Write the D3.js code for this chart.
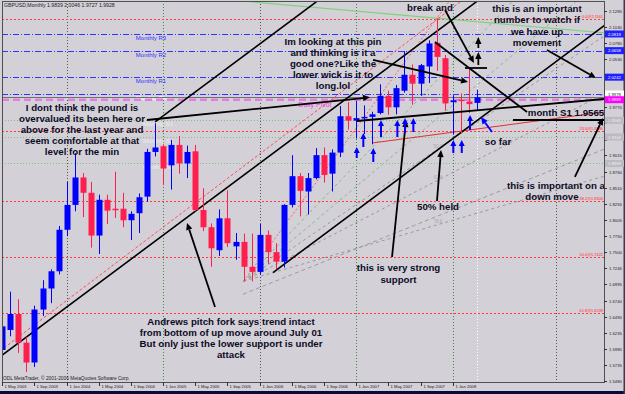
<!DOCTYPE html>
<html><head><meta charset="utf-8">
<script src="https://cdn.jsdelivr.net/npm/d3@7/dist/d3.min.js"></script>
<style>html,body{margin:0;padding:0;background:#d4d0d8;}svg{display:block;font-family:"Liberation Sans",Arial,sans-serif;}</style>
</head><body><svg id="c" width="625" height="394"></svg>
<script>
// ---------------- DATA ----------------
const months = ["2003-05","2003-06","2003-07","2003-08","2003-09","2003-10","2003-11","2003-12",
"2004-01","2004-02","2004-03","2004-04","2004-05","2004-06","2004-07","2004-08","2004-09","2004-10","2004-11","2004-12",
"2005-01","2005-02","2005-03","2005-04","2005-05","2005-06","2005-07","2005-08","2005-09","2005-10","2005-11","2005-12",
"2006-01","2006-02","2006-03","2006-04","2006-05","2006-06","2006-07","2006-08","2006-09","2006-10","2006-11","2006-12",
"2007-01","2007-02","2007-03","2007-04","2007-05","2007-06","2007-07","2007-08","2007-09","2007-10","2007-11","2007-12",
"2008-01","2008-02","2008-03","2008-04"];
const open  = [1.5966,1.6280,1.6530,1.6080,1.5770,1.6600,1.6930,1.7200, 1.7850,1.8240,1.8670,1.8430,1.7760,1.8320,1.8180,1.8180,1.8000,1.8110,1.8370,1.9070,
 1.9160,1.8860,1.9180,1.8890,1.9080,1.8160,1.7890,1.7530,1.8030,1.7590,1.7660,1.7270, 1.7190,1.7770,1.7500,1.7350,1.8240,1.8690,1.8450,1.8660,1.9020,1.8730,1.9060,1.9630,
 1.9560,1.9600,1.9620,1.9680,1.9950,1.9770,2.0030,2.0280,2.0140,2.0410,2.0780,2.0540, 1.9850,1.9890,1.9860,1.9839];
const high  = [1.6550,1.6880,1.6760,1.6170,1.6660,1.7060,1.7230,1.7910, 1.8600,1.9050,1.8740,1.8600,1.8400,1.8400,1.8760,1.8430,1.8140,1.8420,1.9120,1.9520,
 1.9190,1.9260,1.9320,1.9170,1.9180,1.8500,1.7950,1.8170,1.8470,1.7800,1.7790,1.7790, 1.7940,1.7840,1.7640,1.8250,1.9020,1.8740,1.8740,1.9130,1.9140,1.9110,1.9790,1.9850,
 1.9870,1.9800,1.9700,2.0130,2.0030,2.0120,2.0650,2.0440,2.0450,2.0820,2.1161,2.0590, 1.9960,1.9990,2.0397,2.0046];
const low   = [1.5905,1.6180,1.5920,1.5620,1.5700,1.6500,1.6700,1.7150, 1.7750,1.8140,1.8050,1.7570,1.7470,1.7940,1.8035,1.7890,1.7690,1.7800,1.8290,1.9000,
 1.8550,1.8480,1.8730,1.8660,1.8140,1.7830,1.7270,1.7440,1.7580,1.7380,1.7040,1.7040, 1.7150,1.7310,1.7230,1.7260,1.8200,1.8060,1.8090,1.8640,1.8590,1.8450,1.8990,1.9420,
 1.9280,1.9350,1.9190,1.9660,1.9650,1.9660,2.0000,1.9810,1.9950,2.0150,2.0340,1.9720, 1.9340,1.9360,1.9680,1.9727];
const close = [1.6336,1.6530,1.6080,1.5770,1.6600,1.6930,1.7200,1.7850, 1.8240,1.8670,1.8430,1.7760,1.8320,1.8150,1.8160,1.8000,1.8100,1.8360,1.9070,1.9140,
 1.8810,1.9180,1.8890,1.9070,1.8160,1.7890,1.7560,1.8030,1.7640,1.7660,1.7270,1.7190, 1.7770,1.7500,1.7350,1.8240,1.8690,1.8460,1.8660,1.9020,1.8710,1.9060,1.9630,1.9560,
 1.9600,1.9620,1.9660,1.9950,1.9770,2.0070,2.0280,2.0140,2.0430,2.0770,2.0560,1.9830, 1.9880,1.9870,1.9820,1.9928];

const yTickLabels = ["2.1285","2.1030","2.0780","2.0530","2.0280","2.0025","1.9770","1.9520","1.9265","1.9015","1.8760","1.8510",
 "1.8255","1.8005","1.7750","1.7500","1.7246","1.6995","1.6740","1.6490","1.6235","1.5985","1.5735","1.5480"];
const xTickLabels = ["1 May 2003","1 Sep 2003","1 Jan 2004","1 May 2004","1 Sep 2004","1 Jan 2005","1 May 2005","1 Sep 2005",
 "1 Jan 2006","1 May 2006","1 Sep 2006","1 Jan 2007","1 May 2007","1 Sep 2007","1 Jan 2008"];
const xTickMonths = ["2003-05","2003-09","2004-01","2004-05","2004-09","2005-01","2005-05","2005-09","2006-01","2006-05","2006-09","2007-01","2007-05","2007-09","2008-01"];

const pivotNames  = ["Monthly R3","Monthly R2","Monthly R1","Monthly Pivot","Monthly S1","Monthly S2","Monthly S3"];
const pivotValues = [2.0919,2.0658,2.0242,1.9978,1.9565,1.9304,1.8889];
const dailyPivot = 1.9889;
const bidPrice = 1.9928;
const fibNames  = ["0.0","23.6","38.2","50.0","61.8"];
const fibValues = [2.1161,1.9396,1.8304,1.7422,1.6539];
// Andrews pitchfork anchors [month index from May 2003, price]
const forkAnchors = [[-22,1.382],[19,1.954],[33.66,1.718]];
// Fibonacci fan: from Nov 2005 low to Nov 2007 high
const fanFrom = [30,1.7044], fanTo = [54,2.1161];
const fanLevels = [0.236,0.382,0.5,0.618,0.786];
const fanLabels = ["23.6","38.2","50.0","61.8","78.6"];
// annotation lines / arrows in [month index, price]
const arrowsBlack = [
 [[55.05,2.1295],[58.65,2.0464]],
 [[59.19,2.0433],[59.19,2.0637]],
 [[59.19,2.0699],[59.19,2.0872]],
 [[67.73,2.0668],[73.82,2.0229]],
 [[46.10,2.0512],[57.91,2.0166]],
 [[54.05,1.8301],[54.55,1.9101]],
 [[48.46,1.7424],[50.20,1.9571]],
 [[26.45,1.6640],[22.97,1.7957]],
 [[71.20,1.8678],[74.70,1.9602]],
 [[17.99,1.9571],[45.72,1.9926]]
];
const arrowsBlue = [[[60.89,1.9383],[59.52,1.9618]]];
const upArrowsBlue = [[44.07,1.8975,1.9148],[44.89,1.9148,1.9367],[46.13,1.8913,1.9132],[47.09,1.9304,1.9571],
 [49.12,1.9304,1.9571],[50.07,1.9367,1.9602],[51.11,1.9383,1.9602],[56.08,1.9054,1.9258],[57.13,1.9054,1.9258],[58.16,1.9414,1.9649]];
const linesBlack = [
 [[44.10,1.9555],[74.82,1.9900]],
 [[63.50,1.9571],[74.82,1.9571]],
 [[53.80,2.0793],[65.25,1.9696]],
 [[57.54,2.0386],[60.27,2.0386]]
];
const greenLine = [[28.31,2.1452],[74.82,2.0935]];
const redLine = [[45.97,1.9210],[74.82,1.9696]];
const redDashLine = [[-0.29,1.5950],[56.91,2.1420]];
const grayDashLine = [[29.93,1.6840],[74.82,1.9113]];

// ---------------- LAYOUT ----------------
const W=625,H=394, L=2, R=604, T=1, B=382;
const svg=d3.select("#c");
const xs=d3.scaleLinear().domain([0,59]).range([2.3,476.8]);
const ys=d3.scaleLinear().domain([1.548,2.103]).range([381,26.9]);
const BLUE="#0000ff", RED="#ff1f4f", INK="#0c0c24";

svg.append("rect").attr("width",W).attr("height",H).attr("fill","#d4d0d8");
svg.append("rect").attr("x",0).attr("y",391).attr("width",W).attr("height",3).attr("fill","#0a0a3a");
svg.append("rect").attr("x",623.5).attr("y",0).attr("width",1.5).attr("height",H).attr("fill","#3a3a4a");
svg.append("defs").append("clipPath").attr("id","pc").append("rect").attr("x",L).attr("y",T).attr("width",R-L).attr("height",B-T);
const g=svg.append("g").attr("clip-path","url(#pc)");
const P=p=>[xs(p[0]),ys(p[1])];
const seg=(l,stroke,w,dash)=>{const a=P(l[0]),b=P(l[1]);const e=g.append("line").attr("x1",a[0]).attr("y1",a[1]).attr("x2",b[0]).attr("y2",b[1]).attr("stroke",stroke).attr("stroke-width",w);if(dash)e.attr("stroke-dasharray",dash);};

// vertical grid / separators
const gridCols=[{m:"2004-01",c:"#555"},{m:"2005-01",c:"#3a8a3a"},{m:"2006-01",c:"#555"},{m:"2007-01",c:"#3a8a3a"},{m:"2008-01",c:"#3a8a3a"}];
gridCols.forEach(d=>{const x=Math.round(xs(months.indexOf(d.m)))+0.5;
 g.append("line").attr("x1",x).attr("x2",x).attr("y1",T).attr("y2",B).attr("stroke",d.c).attr("stroke-dasharray","1,2");});
g.append("line").attr("x1",556.5).attr("x2",556.5).attr("y1",T).attr("y2",B).attr("stroke","#555").attr("stroke-dasharray","1,2");
{const x=Math.round(xs(59))+0.5; g.append("line").attr("x1",x).attr("x2",x).attr("y1",T).attr("y2",B).attr("stroke","#ffffff").attr("stroke-dasharray","1,2");}

// fib horizontal levels
fibValues.forEach((v,k)=>{const y=Math.round(ys(v))+0.5;
 g.append("line").attr("x1",L).attr("x2",R).attr("y1",y).attr("y2",y).attr("stroke","#ff3b3b").attr("stroke-dasharray","2,2");
 g.append("text").attr("x",603).attr("y",y-1.5).attr("text-anchor","end").attr("font-size",3.9).attr("fill","#ff2a2a").text(fibNames[k]+"@"+v.toFixed(4));});

// monthly pivots
pivotValues.forEach((v,k)=>{const y=Math.round(ys(v))+0.5;
 if(k<4){g.append("line").attr("x1",L).attr("x2",R).attr("y1",y).attr("y2",y).attr("stroke","#3333ff").attr("stroke-dasharray","6,2,1,2");}
 else {g.append("line").attr("x1",L).attr("x2",R).attr("y1",y).attr("y2",y).attr("stroke","#7cc47c").attr("stroke-dasharray","1,2");}
 g.append("text").attr("x",k<3?151:(k==3?154:158)).attr("y",y+5.5).attr("text-anchor","middle").attr("font-size",6)
  .attr("fill",k<3?"#3333ff":(k==3?"#ffffff":"#ececec")).text(pivotNames[k]);});
// daily pivot
{const y=ys(dailyPivot); g.append("line").attr("x1",L).attr("x2",R).attr("y1",y).attr("y2",y).attr("stroke","#e27ee2").attr("stroke-width",2.5).attr("stroke-dasharray","7,4");
 g.append("text").attr("x",315).attr("y",y+7.5).attr("text-anchor","middle").attr("font-size",7).attr("fill","#f040e0").text("Daily Pivot");}
// bid line
{const y=Math.round(ys(bidPrice))+0.5; g.append("line").attr("x1",L).attr("x2",R).attr("y1",y).attr("y2",y).attr("stroke","#707070");}

// green top line
seg(greenLine,"#7ed37e",1.2);

// Fibonacci fan
{const [x0,y0]=P(fanFrom),[x1,y1]=P(fanTo);
 fanLevels.forEach((lv,k)=>{const yy=y1+(y0-y1)*lv; const s=(yy-y0)/(x1-x0); const xe=R; const ye=y0+s*(xe-x0);
  g.append("line").attr("x1",x0).attr("y1",y0).attr("x2",xe).attr("y2",ye).attr("stroke",k<2?"#7fbf7f":"#9a9a9a").attr("stroke-dasharray","3,3");
  if(k>=2) g.append("text").attr("x",x1-3).attr("y",yy-2).attr("font-size",4.5).attr("fill","#a8a8a8").text(fanLabels[k]);});
 g.append("line").attr("x1",x0).attr("y1",y0).attr("x2",x0+(x1-x0)*1.4).attr("y2",y0+(y1-y0)*1.4).attr("stroke","#ff6060").attr("stroke-dasharray","2,2");
}
seg(grayDashLine,"#9c9c9c",1,"4,3");
// red dashed near median & thin red line
seg(redDashLine,"#ff5050",1,"3,2");
seg(redLine,"#e03030",1);

// Andrews pitchfork
{const a=forkAnchors.map(P); const mid=[(a[1][0]+a[2][0])/2,(a[1][1]+a[2][1])/2];
 const dx=mid[0]-a[0][0], dy=mid[1]-a[0][1];
 [[a[0],mid],[a[1],null],[a[2],null]].forEach(([s])=>{const t=900; 
  g.append("line").attr("x1",s[0]).attr("y1",s[1]).attr("x2",s[0]+dx/Math.hypot(dx,dy)*t).attr("y2",s[1]+dy/Math.hypot(dx,dy)*t)
   .attr("stroke","#000").attr("stroke-width",1.6);});}

// candles
const data=months.map((m,i)=>({i,o:open[i],h:high[i],l:low[i],c:close[i]}));
const col=d=>d.c>=d.o?BLUE:RED;
g.selectAll("line.w").data(data).join("line").attr("class","w").attr("x1",d=>Math.round(xs(d.i))+0.5).attr("x2",d=>Math.round(xs(d.i))+0.5)
 .attr("y1",d=>ys(d.h)).attr("y2",d=>ys(d.l)).attr("stroke",col);
g.selectAll("rect.b").data(data).join("rect").attr("class","b").attr("x",d=>Math.round(xs(d.i))-2.5).attr("width",6)
 .attr("y",d=>ys(Math.max(d.o,d.c))).attr("height",d=>Math.max(1.5,Math.abs(ys(d.o)-ys(d.c)))).attr("fill",col);

// black lines
linesBlack.forEach(l=>seg(l,"#000",1.8));
function arrow(a,b,color,w,hl,hw){const dx=b[0]-a[0],dy=b[1]-a[1],len=Math.hypot(dx,dy),ux=dx/len,uy=dy/len;
 const bx=b[0]-ux*hl,by=b[1]-uy*hl;
 g.append("line").attr("x1",a[0]).attr("y1",a[1]).attr("x2",bx).attr("y2",by).attr("stroke",color).attr("stroke-width",w);
 g.append("path").attr("d",`M${b[0]},${b[1]}L${bx-uy*hw},${by+ux*hw}L${bx+uy*hw},${by-ux*hw}Z`).attr("fill",color);}
arrowsBlack.forEach(l=>arrow(P(l[0]),P(l[1]),"#000",1.8,7,3.2));
arrowsBlue.forEach(l=>arrow(P(l[0]),P(l[1]),"#0000ff",1.8,7,3.2));
upArrowsBlue.forEach(d=>arrow([xs(d[0]),ys(d[1])],[xs(d[0]),ys(d[2])],"#0000ff",2,6,3));

// annotation texts
const notes=[
 {t:["I dont think the pound is","overvalued its been here or","above for the last year and","seem comfortable at that","level for the min"],x:82,y:107,dy:11.2},
 {t:["Im looking at this pin","and thinking is it a","good one?Like the","lower wick is it to","long.lol"],x:333,y:41,dy:11},
 {t:["break and"],x:430,y:7.5,dy:11},
 {t:["this is an important","number to watch if","we have up","movement"],x:537,y:8.5,dy:11.4},
 {t:["month S1 1.9565"],x:566,y:112.5,dy:11},
 {t:["so far"],x:498,y:141.7,dy:11},
 {t:["50% held"],x:438,y:206.7,dy:11},
 {t:["this is important on a"],x:556,y:185,dy:11},
 {t:["down move"],x:552,y:196,dy:11},
 {t:["this is very strong","support"],x:398.5,y:267,dy:12},
 {t:["Andrews pitch fork says trend intact","from bottom of up move around July 01","But only just the lower support is under","attack"],x:231,y:321.7,dy:10.8}
];
notes.forEach(n=>n.t.forEach((s,k)=>svg.append("text").attr("x",n.x).attr("y",n.y+k*n.dy+3.5).attr("text-anchor","middle")
 .attr("font-size",9.7).attr("font-weight","bold").attr("fill",INK).text(s)));

// plot frame
svg.append("rect").attr("x",L+0.5).attr("y",T+0.5).attr("width",R-L).attr("height",B-T).attr("fill","none").attr("stroke","#505050");

// y axis (labels hidden where a price box sits on them, as in the terminal)
const boxVals=pivotValues.concat([dailyPivot]);
yTickLabels.forEach(s=>{const y=Math.round(ys(+s))+0.5;
 svg.append("line").attr("x1",R).attr("x2",R+3).attr("y1",y).attr("y2",y).attr("stroke","#333");
 if(boxVals.some(v=>Math.abs(ys(v)-y)<6)) return;
 svg.append("text").attr("x",R+5).attr("y",y+1.5).attr("font-size",4.2).attr("fill","#222").text(s);});
// right axis boxes
function box(v,bg,fg){const y=ys(v);svg.append("rect").attr("x",R+1).attr("y",y-3.5).attr("width",19).attr("height",7).attr("fill",bg);
 svg.append("text").attr("x",R+4).attr("y",y+1.6).attr("font-size",4.2).attr("fill",fg).text(v.toFixed(4));}
pivotValues.forEach((v,k)=>{ if(k<3) box(v,"#2020ff","#fff"); else if(k==3) box(v,"#ffffff","#222"); else box(v,"#bdbbc2","#eeeeee");});
box(dailyPivot,"#ff00ff","#fff");

// x axis
xTickMonths.forEach((m,k)=>{const x=Math.round(xs(months.indexOf(m)))+0.5;
 svg.append("line").attr("x1",x).attr("x2",x).attr("y1",B).attr("y2",B+4).attr("stroke","#333");
 svg.append("text").attr("x",x+2).attr("y",B+6).attr("font-size",4.2).attr("fill","#222").text(xTickLabels[k]);});

svg.append("text").attr("x",4).attr("y",7).attr("font-size",5.2).attr("fill","#222").text("GBPUSD,Monthly  1.9839 2.0046 1.9727 1.9928");
svg.append("text").attr("x",3).attr("y",380).attr("font-size",4.8).attr("fill","#222").text("ODL MetaTrader, \u00a9 2001-2006 MetaQuotes Software Corp.");
</script></body></html>
